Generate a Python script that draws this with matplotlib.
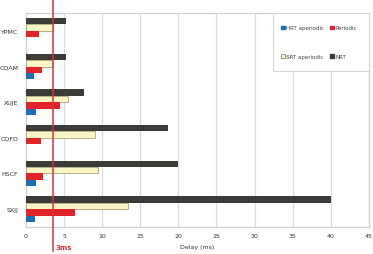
import numpy as np
import matplotlib
matplotlib.use("Agg")
import matplotlib.pyplot as plt
from matplotlib.patches import Rectangle

# data (ms)
stations = ["YPMC", "CQAM", "XUJE", "CQFD", "HSCF", "SXJJ"]
nrt = [5.2, 5.3, 7.6, 18.7, 19.9, 40.0]
srt_aperiodic = [3.6, 3.4, 5.5, 9.0, 9.4, 13.4]
periodic = [1.65, 2.05, 4.45, 2.0, 2.25, 6.45]
hrt_aperiodic = [0, 1.1, 1.35, 0, 1.35, 1.2]
threshold = 3.6
xticks = [0, 5, 10, 15, 20, 25, 30, 35, 40, 45]

fig = plt.figure(figsize=(3.73, 2.55), dpi=100)
ax = fig.add_axes([0.0697, 0.106, 0.919, 0.839])

y = np.arange(len(stations))
h = 0.18
ax.barh(y - 1.5 * h, nrt, h, color="#3b3b37", zorder=3)
ax.barh(y - 0.5 * h, srt_aperiodic, h, color="#fbf5c6", edgecolor="#a9a27c", linewidth=0.6, zorder=3)
ax.barh(y + 0.5 * h, periodic, h, color="#e2232a", zorder=3)
ax.barh(y + 1.5 * h, hrt_aperiodic, h, color="#1e6db5", zorder=3)

ax.set_ylim(len(stations) - 0.5, -0.5)
ax.set_xlim(0, 45)
ax.set_yticks(y)
ax.set_yticklabels(stations)
ax.set_xticks(xticks)
ax.tick_params(axis="both", length=0, labelsize=4.5, colors="#333333")
ax.tick_params(axis="x", pad=4.5)
ax.tick_params(axis="y", pad=5.5)
ax.grid(axis="x", color="#dcdcdc", linewidth=0.9, zorder=0)
for s in ax.spines.values():
    s.set_color("#d2d2d2")
    s.set_linewidth(0.9)
ax.set_xlabel("Delay (ms)", fontsize=4.5, color="#333333", labelpad=4)

# 3ms line, runs past the axes top and bottom
ax.axvline(threshold, ymin=-0.11, ymax=1.07, color="#d8343c", linewidth=1.1,
           clip_on=False, zorder=5)
ax.text(threshold + 0.25, -0.095, "3ms", transform=ax.get_xaxis_transform(),
        color="#d8343c", fontsize=5, ha="left", va="center", fontweight="bold")

# legend box
ax.add_patch(Rectangle((0.722, 0.729), 0.278, 0.271, transform=ax.transAxes,
                       facecolor="white", edgecolor="#d6d6d6", linewidth=0.8, zorder=6))
handles = [
    Rectangle((0, 0), 1, 1, color="#1e6db5"),
    Rectangle((0, 0), 1, 1, facecolor="#fbf5c6", edgecolor="#777777", linewidth=0.5),
    Rectangle((0, 0), 1, 1, color="#e2232a"),
    Rectangle((0, 0), 1, 1, color="#3b3b37"),
]
labels = ["HRT aperiodic", "SRT aperiodic", "Periodic", "NRT"]
leg = ax.legend(handles, labels, ncol=2, loc="upper left", bbox_to_anchor=(0.735, 0.955),
                frameon=False, fontsize=4, handlelength=0.7, handleheight=0.7,
                handletextpad=0.3, columnspacing=1.0, labelspacing=4.2, borderpad=0)
leg.set_zorder(7)
for t in leg.get_texts():
    t.set_color("#444444")

fig.savefig("out.png", dpi=100)
